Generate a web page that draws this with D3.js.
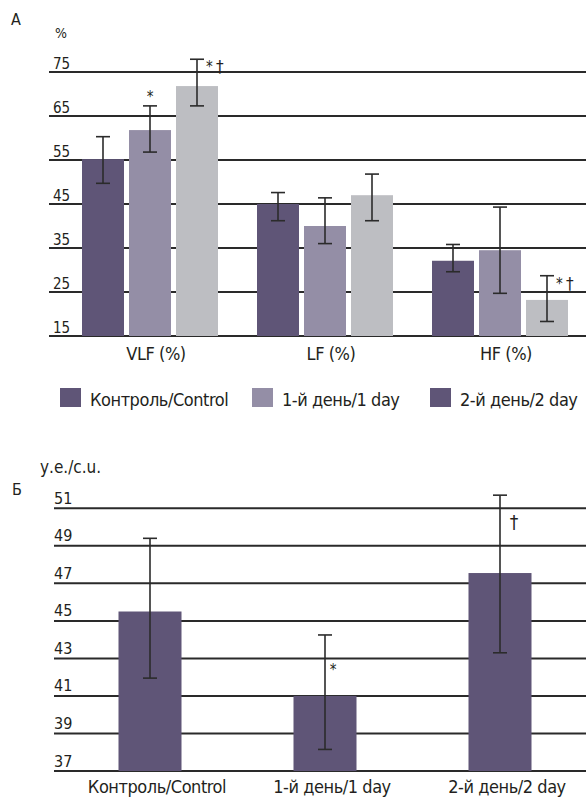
<!DOCTYPE html>
<html>
<head>
<meta charset="utf-8">
<script src="https://cdn.jsdelivr.net/npm/d3@7"></script>
<style>
  html, body { margin: 0; padding: 0; background: #fff; }
  svg { display: block; }
  text { font-family: "Liberation Sans Narrow", "DejaVu Sans Condensed", "Roboto", sans-serif; fill: #231f20; }
  .lab { letter-spacing: -0.45px; }
</style>
</head>
<body>
<svg id="chart" width="586" height="797"></svg>
<script>
// ---- Panel A: spectral components of HRV, % ----
const bandsA = ["VLF (%)", "LF (%)", "HF (%)"];
const seriesA = ["Контроль/Control", "1-й день/1 day", "2-й день/2 day"];
const controlA = [55.2, 45.0, 32.1];
const day1A = [61.8, 40.0, 34.5];
const day2A = [71.8, 47.0, 23.2];
const controlA_hi = [60.3, 47.6, 35.8];
const controlA_lo = [49.7, 41.2, 29.6];
const day1A_hi = [67.3, 46.4, 44.3];
const day1A_lo = [56.8, 36.0, 24.7];
const day2A_hi = [77.9, 51.8, 28.7];
const day2A_lo = [67.3, 41.2, 18.3];
const ticksA = [15, 25, 35, 45, 55, 65, 75];
// significance marks: [series index, band index, text]
const marksA = [[1, 0, "*"], [2, 0, "*†"], [2, 2, "*†"]];

// ---- Panel B: index, c.u. ----
const groupsB = ["Контроль/Control", "1-й день/1 day", "2-й день/2 day"];
const valuesB = [45.5, 41.0, 47.55];
const hiB = [49.4, 44.25, 51.7];
const loB = [41.95, 38.15, 43.3];
const ticksB = [37, 39, 41, 43, 45, 47, 49, 51];
const marksB = [[1, "*"], [2, "†"]];

const colorsA = ["#5f5577", "#948ea6", "#bdbec2"];
const legendColors = ["#5f5577", "#948ea6", "#5f5577"];
const barColorB = "#5f5577";

const svg = d3.select("#chart");

// ================= Panel A =================
const seriesData = [
  { vals: controlA, hi: controlA_hi, lo: controlA_lo },
  { vals: day1A, hi: day1A_hi, lo: day1A_lo },
  { vals: day2A, hi: day2A_hi, lo: day2A_lo }
];

const xA = d3.scaleBand().domain(bandsA).range([62.5, 587.5]);
const xA1 = d3.scaleBand().domain(seriesA).range([-68, 68]).paddingInner(5 / 47);
const yA = d3.scaleLinear().domain([15, 75]).range([336, 72]);

const gA = svg.append("g");

gA.append("text").attr("x", 11).attr("y", 25).attr("font-size", 16).text("А");
gA.append("text").attr("x", 55).attr("y", 38).attr("font-size", 14).text("%");

// horizontal grid with labels above each line
const gridA = gA.append("g");
gridA.selectAll("line").data(ticksA).join("line")
  .attr("x1", 49).attr("x2", 586)
  .attr("y1", d => yA(d)).attr("y2", d => yA(d))
  .attr("stroke", "#2a2a2a").attr("stroke-width", 2);
gridA.selectAll("text").data(ticksA).join("text")
  .attr("x", 53).attr("y", d => yA(d) - 3.5)
  .attr("font-size", 15).text(d => d);

// bars
const barsA = gA.append("g");
seriesData.forEach((s, si) => {
  barsA.selectAll(null).data(bandsA).join("rect")
    .attr("x", (b) => xA(b) + xA.bandwidth() / 2 + xA1(seriesA[si]))
    .attr("width", xA1.bandwidth())
    .attr("y", (b, i) => yA(s.vals[i]))
    .attr("height", (b, i) => yA(15) - yA(s.vals[i]))
    .attr("fill", colorsA[si]);
});

// error bars
const errA = gA.append("g").attr("stroke", "#2b2b2b").attr("stroke-width", 1.6);
seriesData.forEach((s, si) => {
  bandsA.forEach((b, i) => {
    const cx = xA(b) + xA.bandwidth() / 2 + xA1(seriesA[si]) + xA1.bandwidth() / 2;
    const yh = yA(s.hi[i]), yl = yA(s.lo[i]);
    errA.append("line").attr("x1", cx).attr("x2", cx).attr("y1", yh).attr("y2", yl);
    errA.append("line").attr("x1", cx - 7).attr("x2", cx + 7).attr("y1", yh).attr("y2", yh);
    errA.append("line").attr("x1", cx - 7).attr("x2", cx + 7).attr("y1", yl).attr("y2", yl);
  });
});

// significance marks
marksA.forEach(([si, bi, txt]) => {
  const cx = xA(bandsA[bi]) + xA.bandwidth() / 2 + xA1(seriesA[si]) + xA1.bandwidth() / 2;
  const yh = yA(seriesData[si].hi[bi]);
  if (txt === "*") {
    gA.append("text").attr("x", cx).attr("y", yh - 4).attr("text-anchor", "middle")
      .attr("font-size", 15).text("*");
  } else {
    gA.append("text").attr("x", cx + 9).attr("y", yh + 13)
      .attr("font-size", 15).text("*");
    gA.append("text").attr("x", cx + 19).attr("y", yh + 14)
      .attr("font-size", 17).text("†");
  }
});

// category labels
gA.selectAll(".catA").data(bandsA).join("text")
  .attr("class", "catA lab")
  .attr("x", d => xA(d) + xA.bandwidth() / 2 + 6)
  .attr("y", 360).attr("text-anchor", "middle")
  .attr("font-size", 18).text(d => d);

// legend
const legendX = d3.scalePoint().domain(seriesA).range([60, 430]);
const leg = gA.append("g");
seriesA.forEach((name, i) => {
  const lx = (i === 1) ? 252 : legendX(name);
  leg.append("rect").attr("x", lx).attr("y", 388).attr("width", 21).attr("height", 19)
    .attr("fill", legendColors[i]);
  leg.append("text").attr("class", "lab").attr("x", lx + 30).attr("y", 406)
    .attr("font-size", 18).text(name);
});

// ================= Panel B =================
const xB = d3.scaleBand().domain(groupsB).range([62.5, 587.5]);
const yB = d3.scaleLinear().domain([37, 51]).range([771, 508.3]);
const barW = 63;

const gB = svg.append("g");
gB.append("text").attr("x", 40).attr("y", 473).attr("font-size", 17).text("у.е./c.u.");
gB.append("text").attr("x", 12).attr("y", 495).attr("font-size", 16).text("Б");

const gridB = gB.append("g");
gridB.selectAll("line").data(ticksB).join("line")
  .attr("x1", 54).attr("x2", 586)
  .attr("y1", d => yB(d)).attr("y2", d => yB(d))
  .attr("stroke", "#2a2a2a").attr("stroke-width", 2);
gridB.selectAll("text").data(ticksB).join("text")
  .attr("x", 54).attr("y", d => yB(d) - 4.5)
  .attr("font-size", 16).text(d => d);

gB.selectAll(".barB").data(groupsB).join("rect")
  .attr("class", "barB")
  .attr("x", d => xB(d) + xB.bandwidth() / 2 - barW / 2)
  .attr("width", barW)
  .attr("y", (d, i) => yB(valuesB[i]))
  .attr("height", (d, i) => yB(37) - yB(valuesB[i]))
  .attr("fill", barColorB);

const errB = gB.append("g").attr("stroke", "#2b2b2b").attr("stroke-width", 1.6);
groupsB.forEach((g, i) => {
  const cx = xB(g) + xB.bandwidth() / 2;
  const yh = yB(hiB[i]), yl = yB(loB[i]);
  errB.append("line").attr("x1", cx).attr("x2", cx).attr("y1", yh).attr("y2", yl);
  errB.append("line").attr("x1", cx - 7).attr("x2", cx + 7).attr("y1", yh).attr("y2", yh);
  errB.append("line").attr("x1", cx - 7).attr("x2", cx + 7).attr("y1", yl).attr("y2", yl);
});

marksB.forEach(([i, txt]) => {
  const cx = xB(groupsB[i]) + xB.bandwidth() / 2;
  const yh = yB(hiB[i]);
  if (txt === "*") {
    gB.append("text").attr("x", cx + 8).attr("y", yh + 40).attr("text-anchor", "middle")
      .attr("font-size", 15).text("*");
  } else {
    gB.append("text").attr("x", cx + 14).attr("y", yh + 34).attr("text-anchor", "middle")
      .attr("font-size", 19).text("†");
  }
});

gB.selectAll(".catB").data(groupsB).join("text")
  .attr("class", "catB lab")
  .attr("x", d => xB(d) + xB.bandwidth() / 2 + 7)
  .attr("y", 793).attr("text-anchor", "middle")
  .attr("font-size", 18).text(d => d);
</script>
</body>
</html>
